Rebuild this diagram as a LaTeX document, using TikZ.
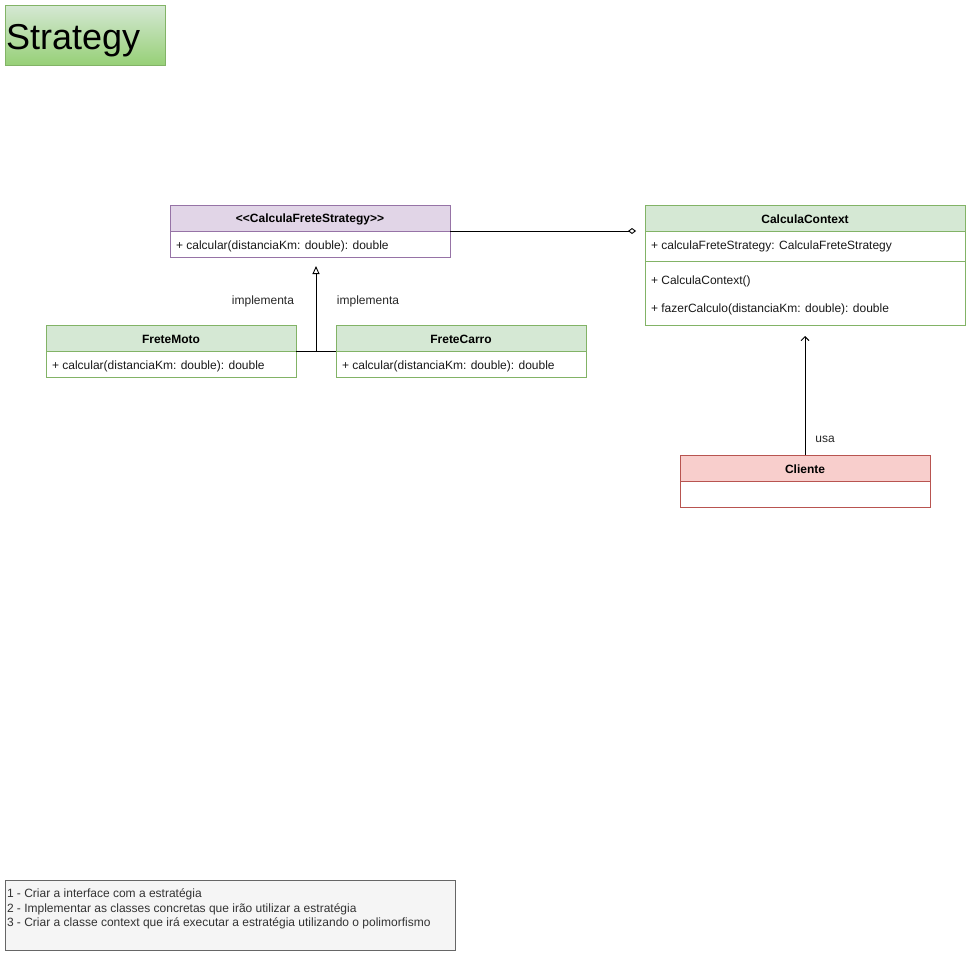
\documentclass[tikz,border=0pt]{standalone}
\usepackage{fontspec}
\setmainfont{Liberation Sans}
\usetikzlibrary{arrows.meta,positioning}
\definecolor{grnF}{HTML}{D5E8D4}
\definecolor{grnD}{HTML}{82B366}
\definecolor{grnG}{HTML}{97D077}
\definecolor{purF}{HTML}{E1D5E7}
\definecolor{purD}{HTML}{9673A6}
\definecolor{redF}{HTML}{F8CECC}
\definecolor{redD}{HTML}{B85450}
\definecolor{noteF}{HTML}{F5F5F5}
\definecolor{noteD}{HTML}{666666}
\tikzset{
  x=1pt, y=-1pt,
  every node/.style={font=\fontsize{12}{14}\selectfont, inner sep=0pt, outer sep=0pt},
  boxhead/.style={draw, line width=0.8pt, minimum height=26pt, anchor=north west, font=\fontsize{12}{14}\selectfont\bfseries},
  boxbody/.style={draw, line width=0.8pt, fill=white, anchor=north west},
  headtxt/.style={font=\fontsize{12}{14}\selectfont\bfseries},
  member/.style={anchor=west, text=black!90},
  lbl/.style={text=black!85},
  conn/.style={line width=0.9pt, black},
}
\begin{document}
\begin{tikzpicture}
\useasboundingbox (0,0) rectangle (971,956);
% title
\node[draw=grnD, line width=0.8pt, top color=grnF, bottom color=grnG, minimum width=160pt, minimum height=60pt, anchor=north west] (title) at (5,5) {};
\node[anchor=west, font=\fontsize{36}{40}\selectfont] (titletxt) at (6,41) {Strategy};

% interface
\node[boxbody, draw=purD, minimum width=280pt, minimum height=52pt] (ifaceB) at (170,205) {};
\node[boxhead, draw=purD, fill=purF, minimum width=280pt] (ifaceH) at (170,205) {};
\node[headtxt] (ifaceT) at (310,219) {<\kern0pt<CalculaFreteStrategy>\kern0pt>};
\node[member] (ifaceM) at (176,246) {+ calcular(distanciaKm: double): double};

% context
\node[boxbody, draw=grnD, minimum width=320pt, minimum height=120pt] (ctxB) at (645,205) {};
\node[boxhead, draw=grnD, fill=grnF, minimum width=320pt] (ctxH) at (645,205) {};
\node[headtxt] (ctxT) at (805,219) {CalculaContext};
\node[member] (ctxA) at (651,246) {+ calculaFreteStrategy: CalculaFreteStrategy};
\draw[grnD, line width=0.8pt] (ctxB.west |- 0,261) -- (ctxB.east |- 0,261);
\node[member] (ctxM1) at (651,281) {+ CalculaContext()};
\node[member] (ctxM2) at (651,309) {+ fazerCalculo(distanciaKm: double): double};

% FreteMoto
\node[boxbody, draw=grnD, minimum width=250pt, minimum height=52pt] (motoB) at (46,325) {};
\node[boxhead, draw=grnD, fill=grnF, minimum width=250pt] (motoH) at (46,325) {};
\node[headtxt] (motoT) at (171,339) {FreteMoto};
\node[member] (motoM) at (52,366) {+ calcular(distanciaKm: double): double};

% FreteCarro
\node[boxbody, draw=grnD, minimum width=250pt, minimum height=52pt] (carroB) at (336,325) {};
\node[boxhead, draw=grnD, fill=grnF, minimum width=250pt] (carroH) at (336,325) {};
\node[headtxt] (carroT) at (461,339) {FreteCarro};
\node[member] (carroM) at (342,366) {+ calcular(distanciaKm: double): double};

% Cliente
\node[boxbody, draw=redD, minimum width=250pt, minimum height=52pt] (cliB) at (680,455) {};
\node[boxhead, draw=redD, fill=redF, minimum width=250pt] (cliH) at (680,455) {};
\node[headtxt] (cliT) at (805,469) {Cliente};

% connectors
\coordinate (aggEnd) at (636,231);
\draw[conn, -{Diamond[open, length=8pt, width=6pt]}] (ifaceH.south east) -- (aggEnd);

\coordinate (inhJ) at (316,351);
\coordinate (inhTip) at (316,266);
\draw[conn] (motoH.south east) -- (carroH.south west);
\draw[conn, -{Triangle[open, length=8pt, width=7pt]}] (inhJ) -- (inhTip);
\node[lbl] (impl1) at (263,301) {implementa};
\node[lbl] (impl2) at (368,301) {implementa};

\coordinate (usaTip) at (805,336);
\draw[conn, -{Straight Barb[length=4pt, width=8pt]}] (cliH.north) -- (usaTip);
\node[lbl] (usa) at (825,439) {usa};

% note
\node[draw=noteD, fill=noteF, line width=0.8pt, minimum width=450pt, minimum height=70pt, anchor=north west] (note) at (5,880) {};
\node[anchor=north west, align=left, text=black!80, font=\fontsize{12}{14.5}\selectfont] (notetxt) at (7,889) {1 - Criar a interface com a estratégia\\2 - Implementar as classes concretas que irão utilizar a estratégia\\3 - Criar a classe context que irá executar a estratégia utilizando o polimorfismo};
\end{tikzpicture}
\end{document}
